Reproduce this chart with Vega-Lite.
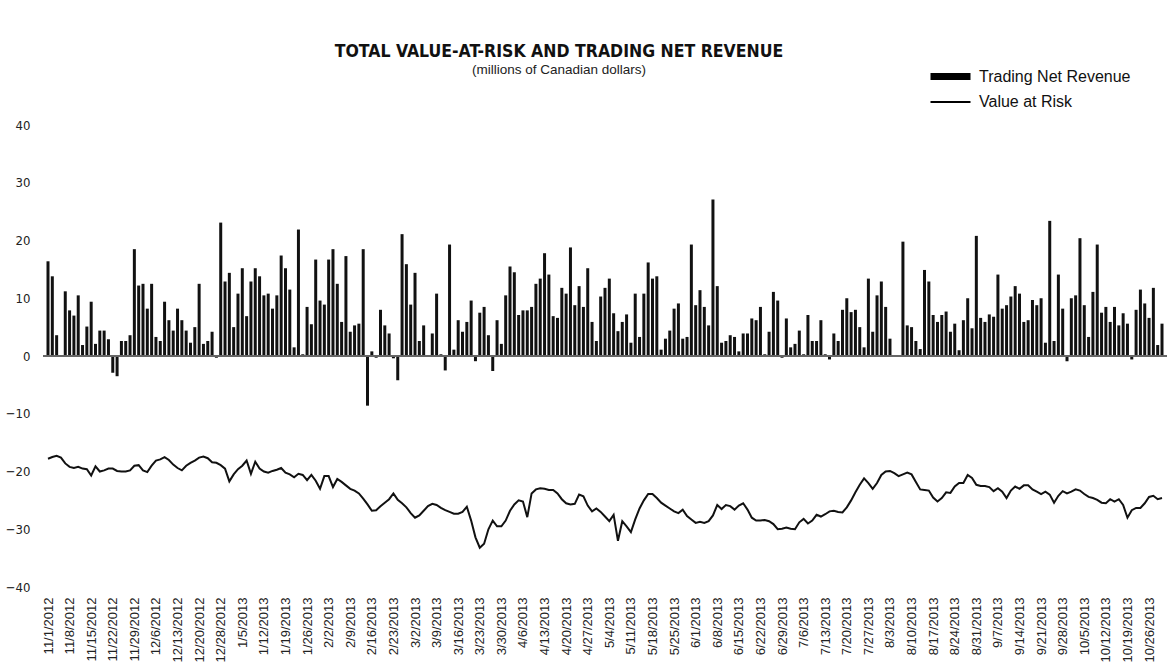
{
  "$schema": "https://vega.github.io/schema/vega-lite/v6.json",
  "width": 1124,
  "height": 462,
  "autosize": {"type": "none"},
  "padding": {"left": 43, "top": 125, "right": 2, "bottom": 81},
  "background": "white",
  "title": {
    "text": "TOTAL VALUE-AT-RISK AND TRADING NET REVENUE",
    "subtitle": "(millions of Canadian dollars)",
    "anchor": "middle",
    "dx": -46,
    "offset": -13,
    "font": "Liberation Sans Narrow, DejaVu Sans Condensed, sans-serif",
    "fontSize": 17.5,
    "fontWeight": "bold",
    "color": "#111",
    "subtitleFont": "Liberation Sans, sans-serif",
    "subtitleFontSize": 13.5,
    "subtitleColor": "#222",
    "subtitlePadding": 2
  },
  "config": {
    "view": {"stroke": null},
    "font": "Liberation Sans, sans-serif"
  },
  "data": {
    "values": [
      {"day":0,"rev":16.4,"var":-17.8},{"day":1,"rev":13.8,"var":-17.5},{"day":2,"rev":3.6,"var":-17.3},{"day":3,"rev":0,"var":-17.6},{"day":4,"rev":11.2,"var":-18.6},
      {"day":5,"rev":7.9,"var":-19.2},{"day":6,"rev":7.0,"var":-19.4},{"day":7,"rev":10.5,"var":-19.2},{"day":8,"rev":1.9,"var":-19.5},{"day":9,"rev":5.1,"var":-19.6},
      {"day":10,"rev":9.4,"var":-20.7},{"day":11,"rev":2.1,"var":-19.1},{"day":12,"rev":4.4,"var":-20.0},{"day":13,"rev":4.4,"var":-19.8},{"day":14,"rev":2.9,"var":-19.5},
      {"day":15,"rev":-2.9,"var":-19.5},{"day":16,"rev":-3.5,"var":-19.9},{"day":17,"rev":2.6,"var":-20.0},{"day":18,"rev":2.6,"var":-20.0},{"day":19,"rev":3.6,"var":-19.8},
      {"day":20,"rev":18.5,"var":-19.0},{"day":21,"rev":12.2,"var":-18.9},{"day":22,"rev":12.5,"var":-19.8},{"day":23,"rev":8.2,"var":-20.1},{"day":24,"rev":12.5,"var":-19.0},
      {"day":25,"rev":3.3,"var":-18.1},{"day":26,"rev":2.6,"var":-17.9},{"day":27,"rev":9.4,"var":-17.5},{"day":28,"rev":6.2,"var":-18.0},{"day":29,"rev":4.4,"var":-18.8},
      {"day":30,"rev":8.2,"var":-19.4},{"day":31,"rev":6.2,"var":-19.8},{"day":32,"rev":4.4,"var":-19.0},{"day":33,"rev":2.3,"var":-18.5},{"day":34,"rev":5.0,"var":-18.1},
      {"day":35,"rev":12.5,"var":-17.6},{"day":36,"rev":2.1,"var":-17.4},{"day":37,"rev":2.6,"var":-17.7},{"day":38,"rev":4.2,"var":-18.4},{"day":39,"rev":-0.3,"var":-18.5},
      {"day":40,"rev":23.1,"var":-18.9},{"day":41,"rev":12.9,"var":-19.5},{"day":42,"rev":14.4,"var":-21.7},{"day":43,"rev":5.0,"var":-20.5},{"day":44,"rev":10.8,"var":-19.6},
      {"day":45,"rev":15.2,"var":-19.0},{"day":46,"rev":6.9,"var":-18.1},{"day":47,"rev":12.9,"var":-20.4},{"day":48,"rev":15.2,"var":-18.3},{"day":49,"rev":13.8,"var":-19.5},
      {"day":50,"rev":10.5,"var":-20.0},{"day":51,"rev":10.8,"var":-20.2},{"day":52,"rev":8.2,"var":-19.9},{"day":53,"rev":10.5,"var":-19.7},{"day":54,"rev":17.4,"var":-19.4},
      {"day":55,"rev":15.2,"var":-20.2},{"day":56,"rev":11.5,"var":-20.5},{"day":57,"rev":1.5,"var":-21.0},{"day":58,"rev":21.9,"var":-20.4},{"day":59,"rev":0.3,"var":-20.6},
      {"day":60,"rev":8.5,"var":-21.5},{"day":61,"rev":5.5,"var":-20.6},{"day":62,"rev":16.7,"var":-21.6},{"day":63,"rev":9.6,"var":-23.0},{"day":64,"rev":8.9,"var":-20.8},
      {"day":65,"rev":16.7,"var":-20.8},{"day":66,"rev":18.5,"var":-22.7},{"day":67,"rev":12.5,"var":-21.3},{"day":68,"rev":5.9,"var":-21.8},{"day":69,"rev":17.3,"var":-22.4},
      {"day":70,"rev":4.2,"var":-23.0},{"day":71,"rev":5.3,"var":-23.3},{"day":72,"rev":5.6,"var":-23.8},{"day":73,"rev":18.5,"var":-24.7},{"day":74,"rev":-8.6,"var":-25.7},
      {"day":75,"rev":0.8,"var":-26.8},{"day":76,"rev":-0.3,"var":-26.7},{"day":77,"rev":8.0,"var":-26.0},{"day":78,"rev":5.3,"var":-25.4},{"day":79,"rev":3.9,"var":-24.8},
      {"day":80,"rev":-0.4,"var":-23.8},{"day":81,"rev":-4.2,"var":-24.9},{"day":82,"rev":21.1,"var":-25.5},{"day":83,"rev":15.9,"var":-26.2},{"day":84,"rev":8.9,"var":-27.2},
      {"day":85,"rev":14.4,"var":-28.0},{"day":86,"rev":2.6,"var":-27.6},{"day":87,"rev":5.3,"var":-26.8},{"day":88,"rev":0,"var":-26.0},{"day":89,"rev":3.9,"var":-25.6},
      {"day":90,"rev":10.8,"var":-25.8},{"day":91,"rev":0.3,"var":-26.3},{"day":92,"rev":-2.5,"var":-26.7},{"day":93,"rev":19.3,"var":-27.0},{"day":94,"rev":1.1,"var":-27.3},
      {"day":95,"rev":6.2,"var":-27.3},{"day":96,"rev":4.2,"var":-27.0},{"day":97,"rev":5.9,"var":-26.1},{"day":98,"rev":9.6,"var":-28.5},{"day":99,"rev":-0.9,"var":-31.4},
      {"day":100,"rev":7.5,"var":-33.2},{"day":101,"rev":8.5,"var":-32.5},{"day":102,"rev":3.6,"var":-30.0},{"day":103,"rev":-2.6,"var":-28.5},{"day":104,"rev":6.2,"var":-29.5},
      {"day":105,"rev":2.1,"var":-29.5},{"day":106,"rev":10.5,"var":-28.5},{"day":107,"rev":15.5,"var":-26.8},{"day":108,"rev":14.5,"var":-25.7},{"day":109,"rev":7.1,"var":-25.0},
      {"day":110,"rev":7.9,"var":-25.2},{"day":111,"rev":7.9,"var":-27.9},{"day":112,"rev":8.5,"var":-23.8},{"day":113,"rev":12.5,"var":-23.1},{"day":114,"rev":13.4,"var":-22.9},
      {"day":115,"rev":17.8,"var":-23.0},{"day":116,"rev":14.1,"var":-23.2},{"day":117,"rev":6.9,"var":-23.2},{"day":118,"rev":6.6,"var":-23.8},{"day":119,"rev":11.8,"var":-24.8},
      {"day":120,"rev":10.8,"var":-25.5},{"day":121,"rev":18.8,"var":-25.7},{"day":122,"rev":8.8,"var":-25.6},{"day":123,"rev":12.1,"var":-24.0},{"day":124,"rev":8.5,"var":-24.3},
      {"day":125,"rev":15.2,"var":-25.9},{"day":126,"rev":5.9,"var":-26.9},{"day":127,"rev":2.6,"var":-26.4},{"day":128,"rev":10.3,"var":-27.0},{"day":129,"rev":11.8,"var":-27.8},
      {"day":130,"rev":13.4,"var":-28.6},{"day":131,"rev":7.4,"var":-27.5},{"day":132,"rev":4.3,"var":-32.0},{"day":133,"rev":5.9,"var":-28.6},{"day":134,"rev":7.2,"var":-29.5},
      {"day":135,"rev":2.3,"var":-30.5},{"day":136,"rev":10.8,"var":-28.3},{"day":137,"rev":3.3,"var":-26.4},{"day":138,"rev":10.8,"var":-25.0},{"day":139,"rev":16.2,"var":-23.9},
      {"day":140,"rev":13.4,"var":-23.9},{"day":141,"rev":13.8,"var":-24.6},{"day":142,"rev":1.1,"var":-25.4},{"day":143,"rev":3.0,"var":-25.9},{"day":144,"rev":4.4,"var":-26.4},
      {"day":145,"rev":8.2,"var":-26.9},{"day":146,"rev":9.1,"var":-27.2},{"day":147,"rev":3.0,"var":-26.6},{"day":148,"rev":3.3,"var":-27.7},{"day":149,"rev":19.3,"var":-28.3},
      {"day":150,"rev":8.8,"var":-28.9},{"day":151,"rev":11.4,"var":-28.7},{"day":152,"rev":8.5,"var":-28.9},{"day":153,"rev":5.3,"var":-28.6},{"day":154,"rev":27.1,"var":-27.6},
      {"day":155,"rev":12.1,"var":-25.8},{"day":156,"rev":2.3,"var":-26.5},{"day":157,"rev":2.6,"var":-25.8},{"day":158,"rev":3.6,"var":-26.0},{"day":159,"rev":3.3,"var":-26.6},
      {"day":160,"rev":0.8,"var":-25.9},{"day":161,"rev":3.9,"var":-25.5},{"day":162,"rev":3.9,"var":-26.6},{"day":163,"rev":6.5,"var":-28.0},{"day":164,"rev":6.2,"var":-28.5},
      {"day":165,"rev":8.5,"var":-28.5},{"day":166,"rev":0.3,"var":-28.4},{"day":167,"rev":4.2,"var":-28.6},{"day":168,"rev":11.1,"var":-29.1},{"day":169,"rev":9.6,"var":-30.0},
      {"day":170,"rev":-0.3,"var":-29.9},{"day":171,"rev":6.5,"var":-29.7},{"day":172,"rev":1.5,"var":-29.9},{"day":173,"rev":2.1,"var":-30.0},{"day":174,"rev":4.4,"var":-28.8},
      {"day":175,"rev":0.3,"var":-28.2},{"day":176,"rev":7.1,"var":-29.0},{"day":177,"rev":2.6,"var":-28.5},{"day":178,"rev":2.6,"var":-27.5},{"day":179,"rev":6.2,"var":-27.8},
      {"day":180,"rev":0.3,"var":-27.4},{"day":181,"rev":-0.6,"var":-26.9},{"day":182,"rev":3.9,"var":-26.8},{"day":183,"rev":2.6,"var":-27.0},{"day":184,"rev":8.0,"var":-27.1},
      {"day":185,"rev":10.0,"var":-26.2},{"day":186,"rev":7.6,"var":-25.0},{"day":187,"rev":8.0,"var":-23.6},{"day":188,"rev":5.0,"var":-22.3},{"day":189,"rev":1.5,"var":-21.2},
      {"day":190,"rev":13.4,"var":-22.0},{"day":191,"rev":4.2,"var":-23.0},{"day":192,"rev":10.5,"var":-22.0},{"day":193,"rev":12.9,"var":-20.6},{"day":194,"rev":8.5,"var":-20.0},
      {"day":195,"rev":3.0,"var":-19.9},{"day":196,"rev":0.1,"var":-20.3},{"day":197,"rev":0,"var":-20.8},{"day":198,"rev":19.8,"var":-20.5},{"day":199,"rev":5.3,"var":-20.2},
      {"day":200,"rev":5.0,"var":-20.5},{"day":201,"rev":2.6,"var":-21.8},{"day":202,"rev":1.2,"var":-23.1},{"day":203,"rev":14.9,"var":-23.2},{"day":204,"rev":12.9,"var":-23.3},
      {"day":205,"rev":7.1,"var":-24.5},{"day":206,"rev":5.9,"var":-25.2},{"day":207,"rev":7.1,"var":-24.6},{"day":208,"rev":7.7,"var":-23.6},{"day":209,"rev":4.2,"var":-23.7},
      {"day":210,"rev":5.6,"var":-22.6},{"day":211,"rev":1.0,"var":-22.0},{"day":212,"rev":6.2,"var":-22.0},{"day":213,"rev":10.0,"var":-20.6},{"day":214,"rev":4.8,"var":-21.1},
      {"day":215,"rev":20.8,"var":-22.3},{"day":216,"rev":6.6,"var":-22.5},{"day":217,"rev":5.9,"var":-22.5},{"day":218,"rev":7.2,"var":-22.7},{"day":219,"rev":6.8,"var":-23.4},
      {"day":220,"rev":14.1,"var":-22.9},{"day":221,"rev":8.2,"var":-23.5},{"day":222,"rev":8.8,"var":-24.6},{"day":223,"rev":10.3,"var":-23.3},{"day":224,"rev":12.1,"var":-22.6},
      {"day":225,"rev":10.8,"var":-23.0},{"day":226,"rev":5.9,"var":-22.4},{"day":227,"rev":6.2,"var":-22.4},{"day":228,"rev":9.7,"var":-23.1},{"day":229,"rev":8.8,"var":-23.5},
      {"day":230,"rev":10.0,"var":-23.9},{"day":231,"rev":2.3,"var":-23.5},{"day":232,"rev":23.4,"var":-24.0},{"day":233,"rev":2.6,"var":-25.4},{"day":234,"rev":14.1,"var":-24.2},
      {"day":235,"rev":8.2,"var":-23.4},{"day":236,"rev":-0.9,"var":-23.8},{"day":237,"rev":10.0,"var":-23.5},{"day":238,"rev":10.5,"var":-23.1},{"day":239,"rev":20.4,"var":-23.3},
      {"day":240,"rev":8.8,"var":-23.9},{"day":241,"rev":3.3,"var":-24.4},{"day":242,"rev":11.1,"var":-24.6},{"day":243,"rev":19.3,"var":-24.9},{"day":244,"rev":7.5,"var":-25.4},
      {"day":245,"rev":8.5,"var":-25.5},{"day":246,"rev":5.9,"var":-24.8},{"day":247,"rev":8.5,"var":-25.2},{"day":248,"rev":5.3,"var":-24.8},{"day":249,"rev":7.4,"var":-25.8},
      {"day":250,"rev":5.6,"var":-28.0},{"day":251,"rev":-0.6,"var":-26.7},{"day":252,"rev":8.0,"var":-26.3},{"day":253,"rev":11.5,"var":-26.3},{"day":254,"rev":9.1,"var":-25.5},
      {"day":255,"rev":6.6,"var":-24.4},{"day":256,"rev":11.8,"var":-24.2},{"day":257,"rev":1.9,"var":-24.8},{"day":258,"rev":5.6,"var":-24.6}
    ]
  },
  "encoding": {
    "x": {
      "field": "day",
      "type": "quantitative",
      "scale": {"domain": [0, 258], "nice": false, "zero": false},
      "axis": {
        "title": null,
        "grid": false,
        "ticks": false,
        "domain": false,
        "values": [0,5,10,15,20,25,30,35,40,45,50,55,60,65,70,75,80,85,90,95,100,105,110,115,120,125,130,135,140,145,150,155,160,165,170,175,180,185,190,195,200,205,210,215,220,225,230,235,240,245,250,255],
        "labelExpr": "['11/1/2012','11/8/2012','11/15/2012','11/22/2012','11/29/2012','12/6/2012','12/13/2012','12/20/2012','12/28/2012','1/5/2013','1/12/2013','1/19/2013','1/26/2013','2/2/2013','2/9/2013','2/16/2013','2/23/2013','3/2/2013','3/9/2013','3/16/2013','3/23/2013','3/30/2013','4/6/2013','4/13/2013','4/20/2013','4/27/2013','5/4/2013','5/11/2013','5/18/2013','5/25/2013','6/1/2013','6/8/2013','6/15/2013','6/22/2013','6/29/2013','7/6/2013','7/13/2013','7/20/2013','7/27/2013','8/3/2013','8/10/2013','8/17/2013','8/24/2013','8/31/2013','9/7/2013','9/14/2013','9/21/2013','9/28/2013','10/5/2013','10/12/2013','10/19/2013','10/26/2013'][floor(datum.value / 5)]",
        "labelAngle": 270,
        "labelPadding": 10,
        "labelFontSize": 13,
        "labelColor": "#222",
        "labelOverlap": false,
        "labelFlush": false,
        "labelBound": false
      }
    }
  },
  "layer": [
    {
      "mark": {"type": "bar", "size": 3, "color": "#111"},
      "encoding": {
        "y": {
          "field": "rev",
          "type": "quantitative",
          "scale": {"domain": [-40, 40], "nice": false},
          "axis": {
            "title": null,
            "grid": false,
            "ticks": false,
            "domain": false,
            "values": [-40,-30,-20,-10,0,10,20,30,40],
            "labelPadding": 13,
            "labelFontSize": 13,
            "labelColor": "#222",
            "labelFont": "Liberation Sans Narrow, DejaVu Sans Condensed, sans-serif"
          }
        }
      }
    },
    {
      "mark": {"type": "rule", "color": "#666", "strokeWidth": 1},
      "encoding": {"y": {"datum": 0}, "x": {"value": 0}, "x2": {"value": 1124}}
    },
    {
      "mark": {"type": "line", "color": "#111", "interpolate": "linear"},
      "encoding": {
        "y": {"field": "var", "type": "quantitative"},
        "strokeWidth": {
          "datum": "Value at Risk",
          "type": "nominal",
          "scale": {"type": "ordinal", "domain": ["Trading Net Revenue", "Value at Risk"], "range": [7, 2]},
          "legend": {
            "title": null,
            "orient": "none",
            "legendX": 894,
            "legendY": -62,
            "symbolType": "M-2,0H2",
            "symbolStrokeColor": "#000",
            "symbolSize": 400,
            "labelFontSize": 16,
            "labelColor": "#111",
            "labelOffset": 15,
            "rowPadding": -2,
            "padding": 0
          }
        }
      }
    }
  ]
}
